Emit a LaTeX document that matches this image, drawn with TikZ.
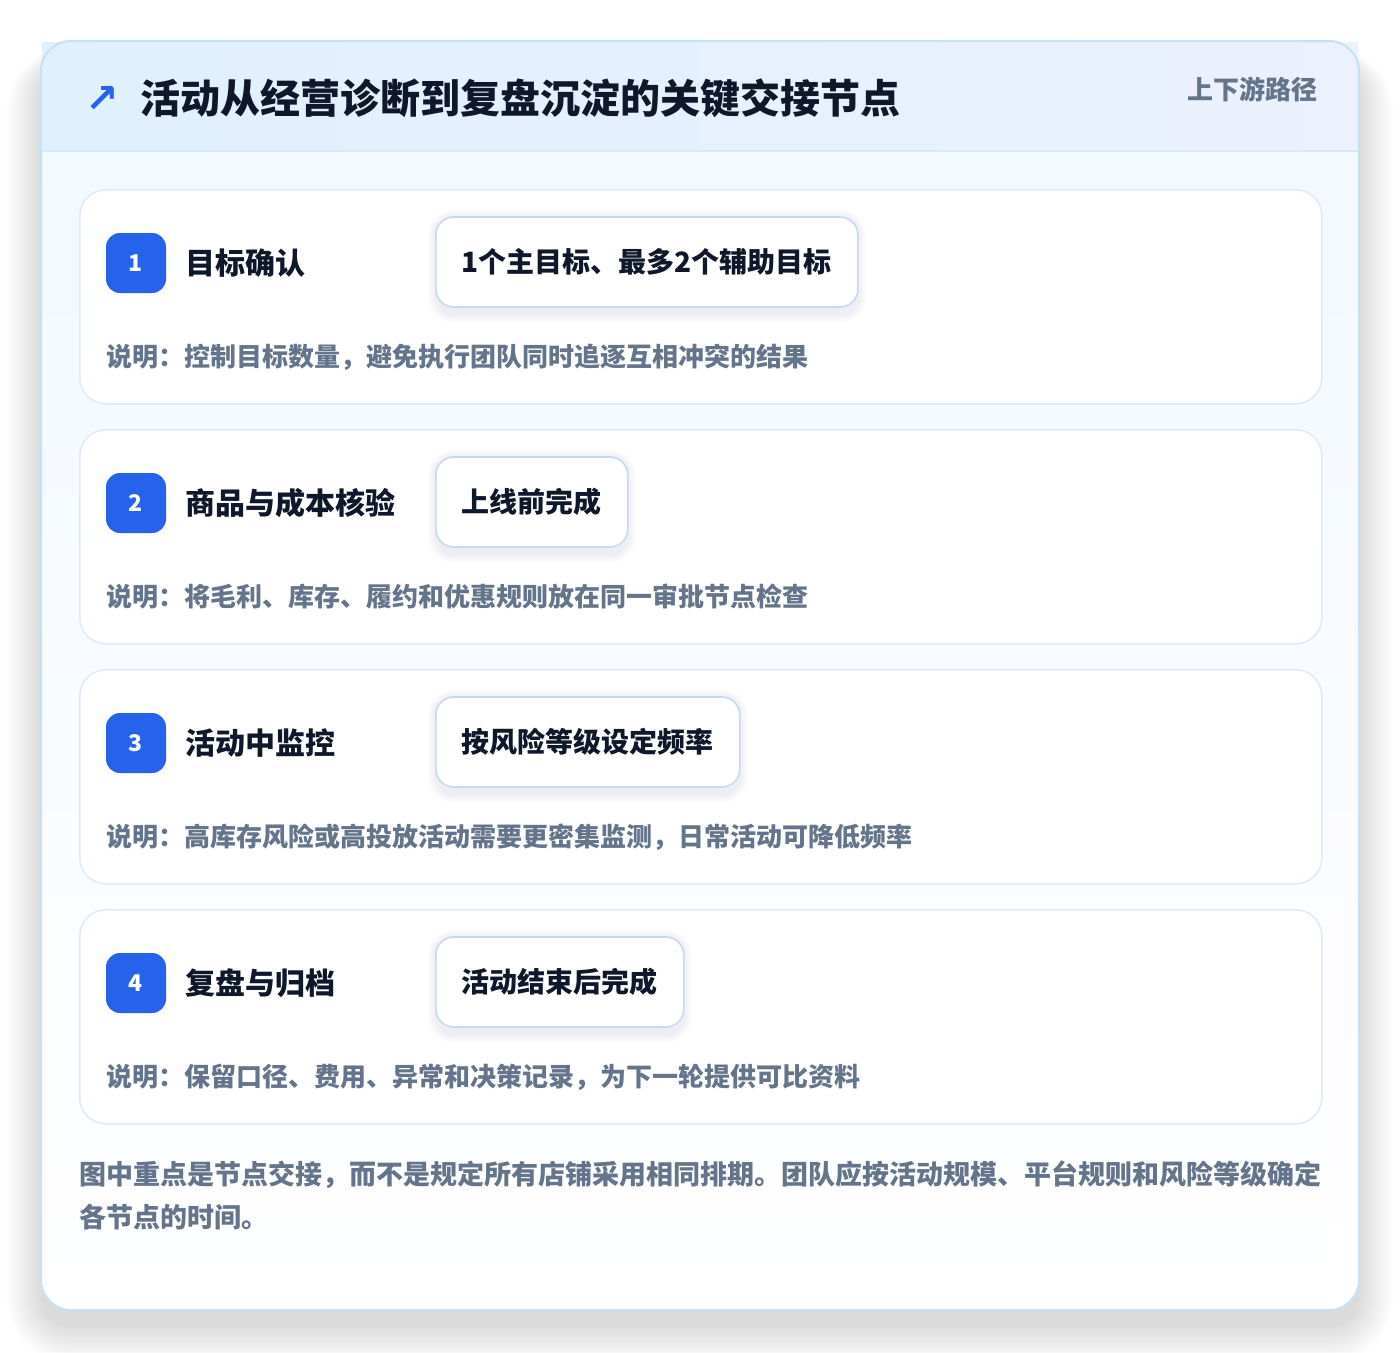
\documentclass[tikz,border=0pt]{standalone}
\usepackage{fontspec}
\setmainfont{Noto Sans CJK SC}
\newfontfamily\symfont{DejaVu Sans}
\definecolor{pagebg}{HTML}{FFFFFF}
\definecolor{outerborder}{HTML}{C3E2F6}
\definecolor{hdrleft}{HTML}{E0F0FE}
\definecolor{hdrright}{HTML}{EBF1FD}
\definecolor{hdrline}{HTML}{D8E9FB}
\definecolor{bodytop}{HTML}{F1F8FF}
\definecolor{cardborder}{HTML}{DCEAFB}
\definecolor{tagborder}{HTML}{C3DAF7}
\definecolor{accent}{HTML}{2563EB}
\definecolor{ink}{HTML}{0F172A}
\definecolor{muted}{HTML}{64748B}
\definecolor{shadowcol}{HTML}{334155}
\tikzset{
  stepcard/.style={draw=cardborder, line width=1.6pt, fill=white, rounded corners=26pt,
    minimum width=1242pt, minimum height=214pt, anchor=north west, inner sep=0pt},
  badge/.style={fill=accent, rounded corners=14pt, minimum size=60pt, inner sep=0pt,
    text=white, font=\bfseries\fontsize{23}{26}\selectfont},
  steptitle/.style={anchor=west, inner sep=0pt, text=ink, font=\bfseries\fontsize{30}{36}\selectfont},
  tagbox/.style={draw=tagborder, line width=1.6pt, fill=white, rounded corners=18pt,
    minimum height=90pt, inner xsep=26pt, inner ysep=0pt, anchor=west, text=ink,
    font=\bfseries\fontsize{28}{34}\selectfont},
  desc/.style={anchor=west, inner sep=0pt, text=muted, font=\bfseries\fontsize{26}{32}\selectfont},
  foot/.style={anchor=west, inner sep=0pt, text=muted, font=\bfseries\fontsize{27}{32}\selectfont},
}
% soft shadow behind a named node
\newcommand{\tagshadow}[1]{%
  \foreach \k in {0,...,5}{%
    \fill[shadowcol, fill opacity=0.012, rounded corners=18pt+1.5*\k pt]
      ([xshift=-1.5*\k pt, yshift=-1pt+1.5*\k pt]#1.north west) rectangle
      ([xshift=1.5*\k pt, yshift=-7pt-1.5*\k pt]#1.south east);
  }%
}
\begin{document}
\begin{tikzpicture}[x=1pt,y=-1pt]
\useasboundingbox (0,0) rectangle (1400,1352);
\fill[pagebg] (0,0) rectangle (1400,1352);
% outer shadow (layered)
\foreach \k in {0,...,17}{
  \fill[shadowcol, fill opacity=0.008, rounded corners=30pt+2*\k pt]
    (41-2*\k, 64-1*\k) rectangle (1359+2*\k, 1326+2.2*\k);
}
% outer card
\path[fill=white, rounded corners=30pt] (41,41) rectangle (1359,1310);
\shade[top color=bodytop, bottom color=white, rounded corners=30pt] (41,41) rectangle (1359,1310);
% header band
\shade[left color=hdrleft, right color=hdrright] (42,42) rectangle (1358,151);
\draw[hdrline, line width=1.5pt] (42,151) -- (1358,151);
\draw[outerborder, line width=2pt, rounded corners=30pt] (41,41) rectangle (1359,1310);
% header texts
\node[inner sep=0pt, text=accent, font=\symfont\bfseries\fontsize{40}{44}\selectfont] (icon) at (102,99) {↗};
\node[anchor=west, inner sep=0pt, text=ink, font=\bfseries\fontsize{40}{46}\selectfont] (title) at (140,98) {活动从经营诊断到复盘沉淀的关键交接节点};
\node[anchor=east, inner sep=0pt, text=muted, font=\bfseries\fontsize{26}{30}\selectfont] (route) at (1318,89) {上下游路径};
% step 1
\node[stepcard] (card1) at (79,189) {};
\node[badge] (b1) at (136,263) {1};
\node[steptitle] (t1) at (185,263) {目标确认};
\node[tagbox, text opacity=0, draw opacity=0, fill opacity=0] (g1s) at (435,262) {1个主目标、最多2个辅助目标};
\tagshadow{g1s}
\node[tagbox] (g1) at (435,262) {1个主目标、最多2个辅助目标};
\node[desc] (d1) at (106,357) {说明：控制目标数量，避免执行团队同时追逐互相冲突的结果};
% step 2
\node[stepcard] (card2) at (79,429) {};
\node[badge] (b2) at (136,503) {2};
\node[steptitle] (t2) at (185,503) {商品与成本核验};
\node[tagbox, text opacity=0, draw opacity=0, fill opacity=0] (g2s) at (435,502) {上线前完成};
\tagshadow{g2s}
\node[tagbox] (g2) at (435,502) {上线前完成};
\node[desc] (d2) at (106,597) {说明：将毛利、库存、履约和优惠规则放在同一审批节点检查};
% step 3
\node[stepcard] (card3) at (79,669) {};
\node[badge] (b3) at (136,743) {3};
\node[steptitle] (t3) at (185,743) {活动中监控};
\node[tagbox, text opacity=0, draw opacity=0, fill opacity=0] (g3s) at (435,742) {按风险等级设定频率};
\tagshadow{g3s}
\node[tagbox] (g3) at (435,742) {按风险等级设定频率};
\node[desc] (d3) at (106,837) {说明：高库存风险或高投放活动需要更密集监测，日常活动可降低频率};
% step 4
\node[stepcard] (card4) at (79,909) {};
\node[badge] (b4) at (136,983) {4};
\node[steptitle] (t4) at (185,983) {复盘与归档};
\node[tagbox, text opacity=0, draw opacity=0, fill opacity=0] (g4s) at (435,982) {活动结束后完成};
\tagshadow{g4s}
\node[tagbox] (g4) at (435,982) {活动结束后完成};
\node[desc] (d4) at (106,1077) {说明：保留口径、费用、异常和决策记录，为下一轮提供可比资料};
% footer
\node[foot] (f1) at (79,1175) {图中重点是节点交接，而不是规定所有店铺采用相同排期。团队应按活动规模、平台规则和风险等级确定};
\node[foot] (f2) at (79,1217) {各节点的时间。};
\end{tikzpicture}
\end{document}
